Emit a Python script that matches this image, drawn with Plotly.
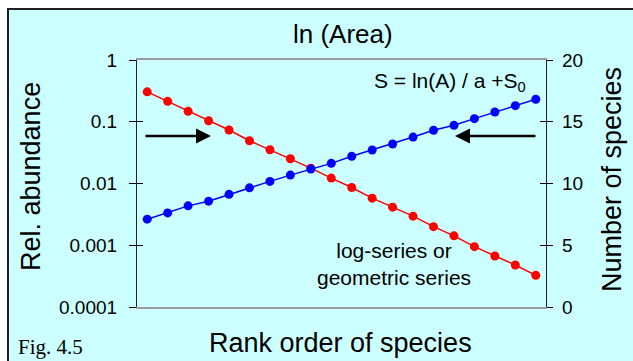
import plotly.graph_objects as go

# Rank order of species (x) and the two curves
ranks = list(range(1, 21))
rel_abundance = [0.305, 0.214, 0.1476, 0.104, 0.0736, 0.0493, 0.0352, 0.0252, 0.0177, 0.01224,
                 0.00861, 0.00579, 0.00414, 0.00296, 0.00200, 0.00142, 0.000949, 0.000670, 0.000479, 0.000326]
n_species = [7.11, 7.62, 8.19, 8.57, 9.12, 9.65, 10.17, 10.68, 11.17, 11.63,
             12.20, 12.71, 13.20, 13.76, 14.31, 14.71, 15.25, 15.79, 16.30, 16.82]

left_tickvals = [0.0001, 0.001, 0.01, 0.1, 1]
left_ticktext = ["0.0001", "0.001", "0.01", "0.1", "1"]
right_tickvals = [0, 5, 10, 15, 20]
right_ticktext = ["0", "5", "10", "15", "20"]

SANS = "Arial, Liberation Sans, sans-serif"
SERIF = "Times New Roman, Liberation Serif, serif"
CYAN = "#CCFFFF"
CREAM = "#FFFFCC"

W, H = 633, 361
ML, MR, MT, MB = 137, 87, 60, 54
PW, PH = W - ML - MR, H - MT - MB


def px_x(p):
    """pixel column -> paper x"""
    return (p - ML) / PW


def px_y(p):
    """pixel row -> paper y"""
    return (H - MB - p) / PH


fig = go.Figure()

fig.add_trace(go.Scatter(
    x=ranks, y=rel_abundance, mode="lines+markers",
    line=dict(color="#FF0000", width=1.5),
    marker=dict(color="#FF0000", size=9),
    yaxis="y", showlegend=False, hoverinfo="skip"))

fig.add_trace(go.Scatter(
    x=ranks, y=n_species, mode="lines+markers",
    line=dict(color="#0000FF", width=1.5),
    marker=dict(color="#0000FF", size=9),
    yaxis="y2", showlegend=False, hoverinfo="skip"))

# empty traces so the inner tick axes are drawn
fig.add_trace(go.Scatter(x=[], y=[], yaxis="y3", showlegend=False, hoverinfo="skip"))
fig.add_trace(go.Scatter(x=[], y=[], yaxis="y4", showlegend=False, hoverinfo="skip"))

tickfont = dict(family=SANS, size=19, color="black")

fig.update_layout(
    width=W, height=H,
    margin=dict(l=ML, r=MR, t=MT, b=MB),
    paper_bgcolor="white",
    plot_bgcolor=CREAM,
    xaxis=dict(range=[0.5, 20.5], showgrid=False, zeroline=False,
               showticklabels=False, ticks="",
               showline=True, mirror=True, linecolor="#9A9A9A", linewidth=1.5),
    yaxis=dict(type="log", range=[-4, 0], tickvals=left_tickvals, ticktext=left_ticktext,
               showgrid=False, zeroline=False, ticks="outside", ticklen=7,
               tickcolor="black", tickwidth=1, tickfont=tickfont, ticklabelstandoff=8,
               showline=True, linecolor="#222222", linewidth=1.2),
    yaxis2=dict(range=[0, 20], tickvals=right_tickvals, ticktext=right_ticktext,
                overlaying="y", side="right", anchor="x",
                showgrid=False, zeroline=False, ticks="outside", ticklen=6,
                tickcolor="black", tickwidth=1, tickfont=tickfont, ticklabelstandoff=5,
                showline=True, linecolor="#222222", linewidth=1.2),
    yaxis3=dict(type="log", range=[-4, 0], tickvals=left_tickvals,
                overlaying="y", side="left", anchor="x",
                showgrid=False, zeroline=False, ticks="inside", ticklen=6,
                tickcolor="black", tickwidth=1, showticklabels=False, showline=False),
    yaxis4=dict(range=[0, 20], tickvals=right_tickvals,
                overlaying="y", side="right", anchor="x",
                showgrid=False, zeroline=False, ticks="inside", ticklen=6,
                tickcolor="black", tickwidth=1, showticklabels=False, showline=False),
)

# cyan panel with a dark frame on its top and left edges
fig.add_shape(type="rect", xref="paper", yref="paper", layer="below",
              x0=px_x(8), x1=px_x(W + 10), y0=px_y(H + 10), y1=px_y(9),
              fillcolor=CYAN, line=dict(color="#202020", width=2))

annotations = [
    dict(text="ln (Area)", x=px_x(343), y=px_y(34), font=dict(family=SANS, size=26)),
    dict(text="Rank order of species", x=px_x(340), y=px_y(343),
         font=dict(family=SANS, size=27)),
    dict(text="Rel. abundance", x=px_x(31), y=px_y(177), textangle=-90,
         font=dict(family=SANS, size=27)),
    dict(text="Number of species", x=px_x(612), y=px_y(180), textangle=-90,
         font=dict(family=SANS, size=27)),
    dict(text="S = ln(A) / a +S<sub>0</sub>", x=px_x(528), y=px_y(82), xanchor="right",
         font=dict(family=SANS, size=21)),
    dict(text="log-series or<br>geometric series", x=px_x(394), y=px_y(264),
         font=dict(family=SANS, size=21)),
    dict(text="Fig. 4.5", x=px_x(16), y=px_y(347), xanchor="left",
         font=dict(family=SERIF, size=21)),
]
for a in annotations:
    a.setdefault("xanchor", "center")
    a.setdefault("yanchor", "middle")
    a["font"]["color"] = "black"
    fig.add_annotation(xref="paper", yref="paper", showarrow=False, **a)

# horizontal arrows pointing at the curves (y in log10 units on the log axis)
ARROW_Y = -1.23
for tail_x, head_x in [(0.84, 4.12), (20.06, 16.05)]:
    fig.add_annotation(x=head_x, y=ARROW_Y, ax=tail_x, ay=ARROW_Y,
                       xref="x", yref="y", axref="x", ayref="y",
                       showarrow=True, arrowhead=2, arrowsize=1.2, arrowwidth=2.5,
                       arrowcolor="black", text="")

fig.write_html("out.html")
